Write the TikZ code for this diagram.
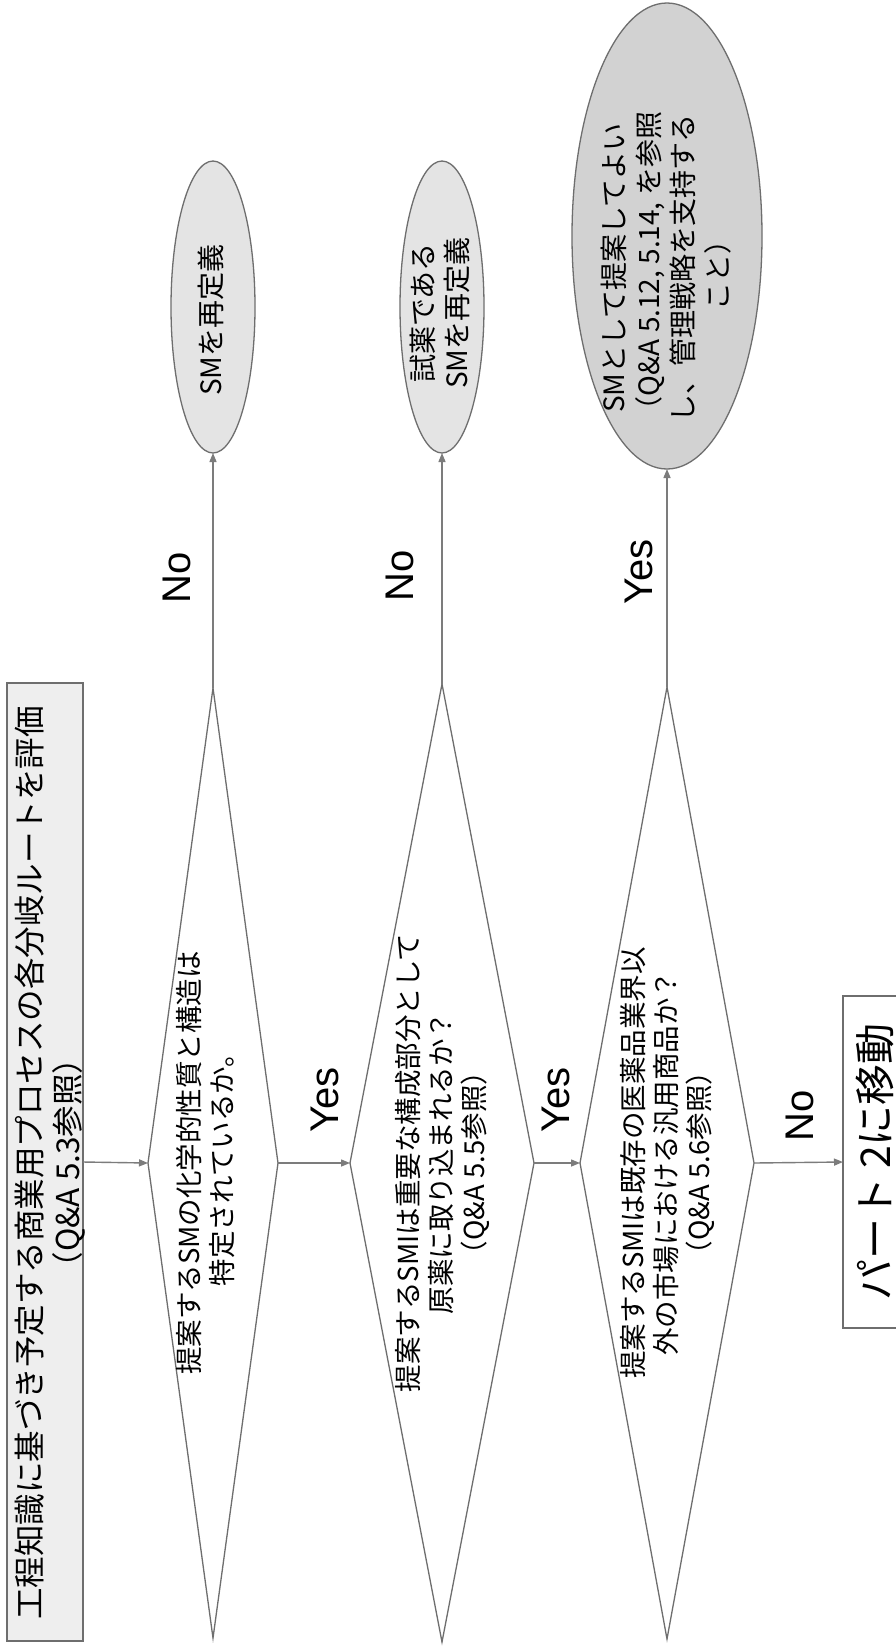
\documentclass[tikz,border=0pt]{standalone}
\usepackage{fontspec}
\setmainfont{Noto Sans CJK JP}
\newfontfamily\labfont{Liberation Sans}
\usetikzlibrary{shapes.geometric,arrows.meta}
\definecolor{linegray}{HTML}{7C7C7C}
\definecolor{shapegray}{HTML}{6E6E6E}
\definecolor{ellfill}{HTML}{E4E4E4}
\definecolor{ellfilldark}{HTML}{D2D2D2}
\definecolor{titlefill}{HTML}{EEEEEE}
\tikzset{
  conn/.style={draw=linegray, line width=1.4pt, -{Triangle[length=9pt,width=7pt]}},
  decision/.style={diamond, draw=shapegray, line width=1.3pt, inner sep=0pt, outer sep=0pt},
  terminal/.style={ellipse, draw=shapegray, line width=1.3pt, inner sep=0pt, outer sep=0pt, fill=ellfill},
  vtext/.style={rotate=90, align=center, inner sep=0pt},
  dtext/.style={vtext, font=\fontsize{27.5pt}{33pt}\selectfont},
  etext/.style={vtext, font=\fontsize{28pt}{34.5pt}\selectfont},
  lab/.style={rotate=90, inner sep=0pt, font=\labfont\fontsize{40pt}{48pt}\selectfont},
}
\begin{document}
\begin{tikzpicture}[x=1pt,y=-1pt]
\useasboundingbox (0,0) rectangle (896,1647);
\clip (0,0) rectangle (896,1647);
\fill[white] (0,0) rectangle (896,1647);

% title box
\node[draw=shapegray, fill=titlefill, line width=1.3pt, inner sep=0pt, outer sep=0pt,
      minimum width=76pt, minimum height=958pt] (title) at (45,1162) {};
\node[vtext, font=\fontsize{31.5pt}{38pt}\selectfont] (titletext) at (50,1163)
  {工程知識に基づき予定する商業用プロセスの各分岐ルートを評価\\（Q\&A 5.3参照）};

% decisions
\node[decision, minimum width=130pt, minimum height=950pt] (d1) at (213,1163) {};
\node[dtext] (d1text) at (206,1163) {提案するSMの化学的性質と構造は\\特定されているか。};

\node[decision, minimum width=184pt, minimum height=958pt] (d2) at (442,1163) {};
\node[dtext] (d2text) at (442,1163) {提案するSMIは重要な構成部分として\\原薬に取り込まれるか？\\（Q\&A 5.5参照）};

\node[decision, minimum width=174pt, minimum height=952pt] (d3) at (667,1163) {};
\node[dtext] (d3text) at (667,1163) {提案するSMIは既存の医薬品業界以\\外の市場における汎用商品か？\\（Q\&A 5.6参照）};

% terminals
\node[terminal, minimum width=84pt, minimum height=292pt] (e1) at (213,307) {};
\node[etext] (e1text) at (211,320) {SMを再定義};

\node[terminal, minimum width=84pt, minimum height=292pt] (e2) at (442,307) {};
\node[etext] (e2text) at (440,313) {試薬である\\SMを再定義};

\node[terminal, fill=ellfilldark, minimum width=190pt, minimum height=466pt] (e3) at (667,236) {};
\node[etext] (e3text) at (666,268) {SMとして提案してよい\\（Q\&A 5.12, 5.14, を参照\\し、管理戦略を支持する\\こと）};

% part 2 box
\node[draw=shapegray, fill=white, line width=1.3pt, inner sep=0pt, outer sep=0pt,
      minimum width=64pt, minimum height=332pt] (part2) at (875,1162) {};
\node[vtext, font=\fontsize{41pt}{48pt}\selectfont] (part2text) at (875,1162) {パート 2に移動};

% connectors
\draw[conn] (title.east) -- (d1.west);
\draw[conn] (d1.east) -- (d2.west);
\draw[conn] (d2.east) -- (d3.west);
\draw[conn] (d3.east) -- (part2.west);
\draw[conn] (d1.north) -- (e1.south);
\draw[conn] (d2.north) -- (e2.south);
\draw[conn] (d3.north) -- (e3.south);

% labels
\node[lab] (yes1) at (325,1100) {Yes};
\node[lab] (yes2) at (556,1100) {Yes};
\node[lab] (no3) at (800,1116) {No};
\node[lab] (no1) at (177,578) {No};
\node[lab] (no2) at (400,576) {No};
\node[lab] (yes3) at (639,572) {Yes};
\end{tikzpicture}
\end{document}
